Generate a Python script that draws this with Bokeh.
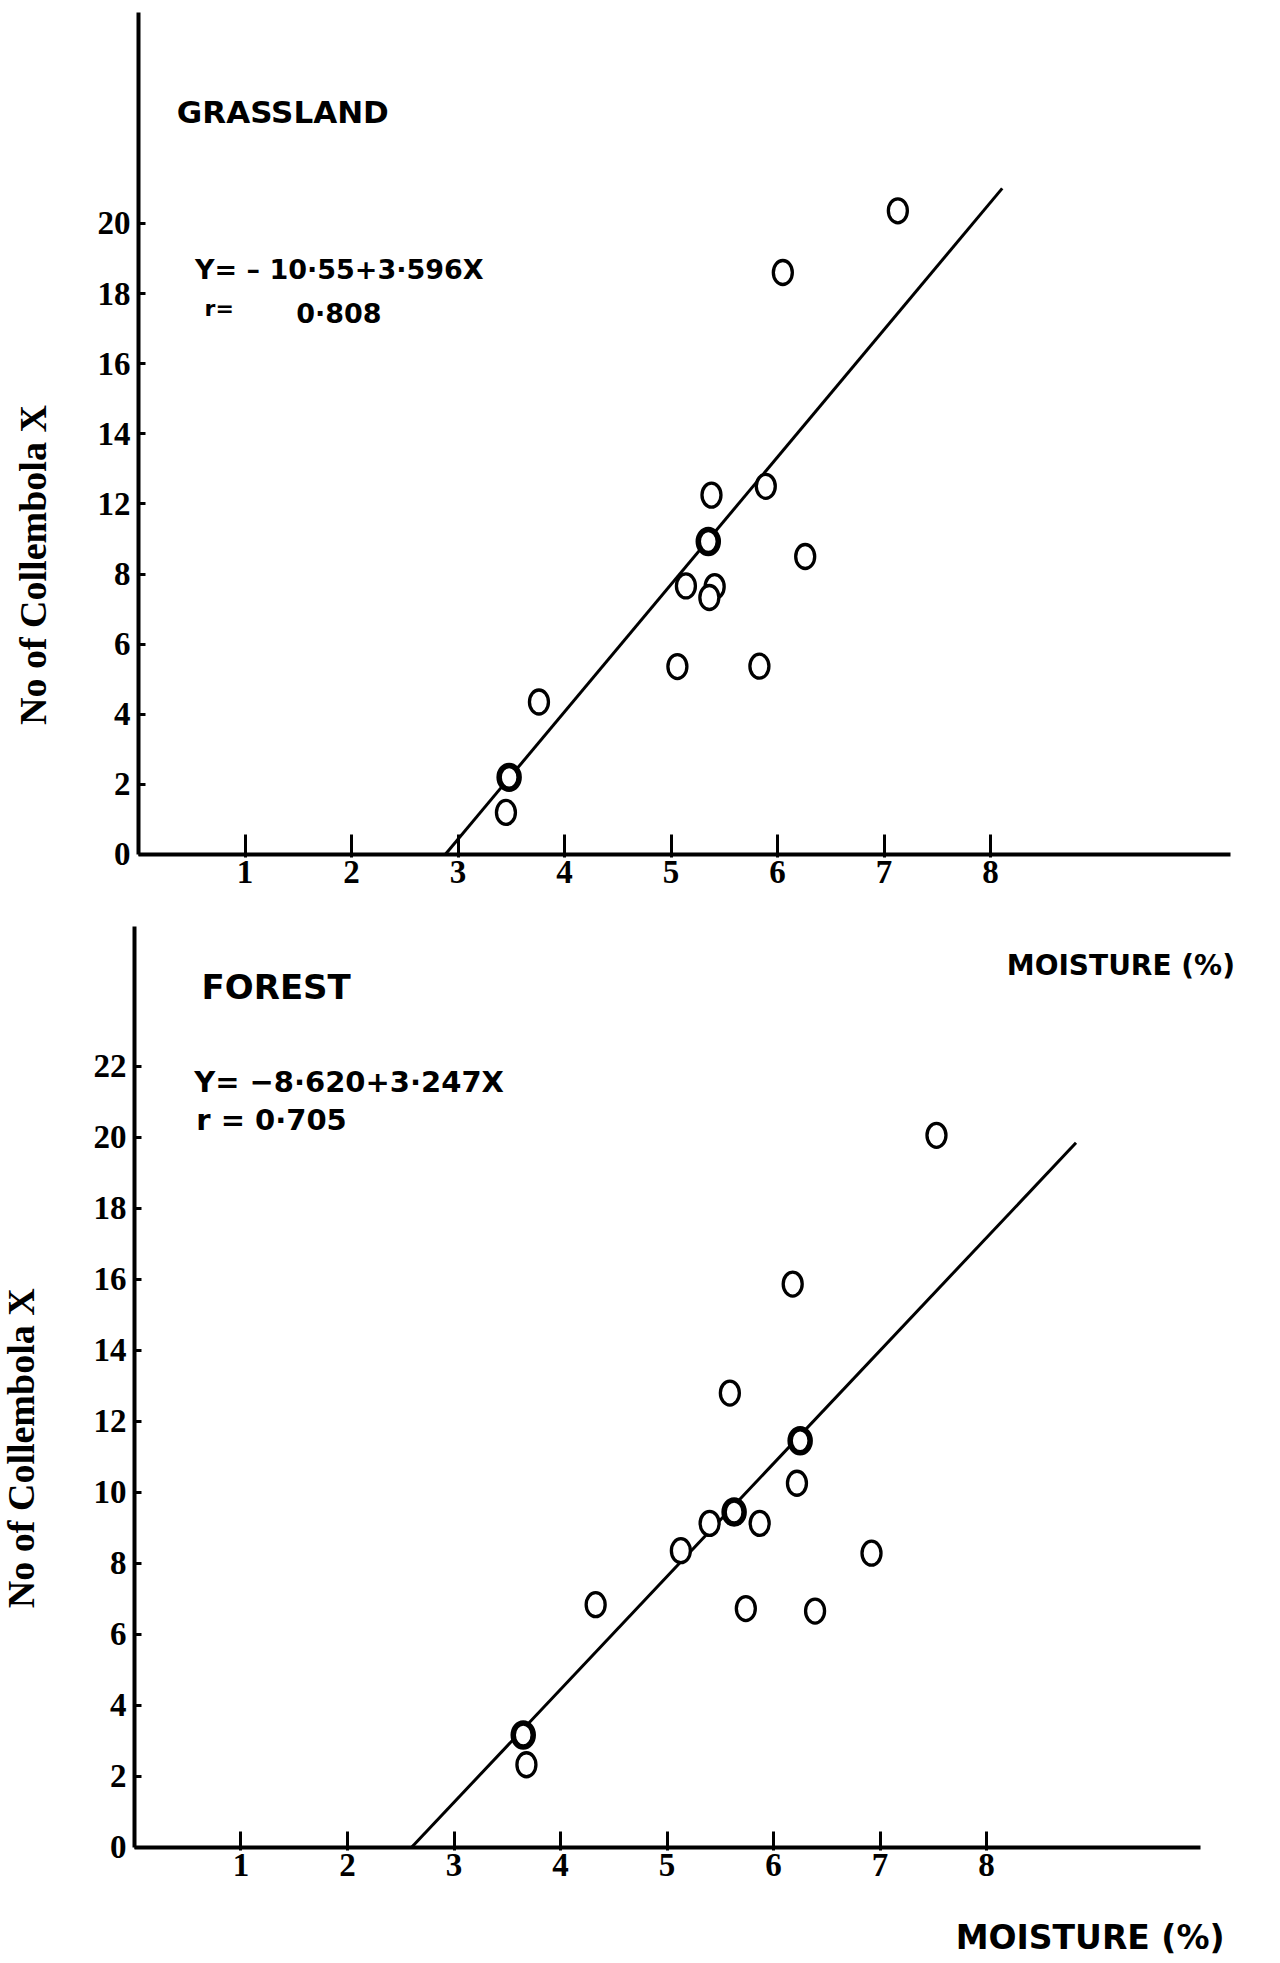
import math
from bokeh.plotting import figure
from bokeh.layouts import column
from bokeh.models import Range1d, FixedTicker, Label, ColumnDataSource
from bokeh.embed import file_html
from bokeh.resources import INLINE

# ---------------- data ----------------
# Grassland panel
grass_moisture = [7.13, 6.05, 5.38, 5.89, 5.35, 6.26, 5.14, 5.41, 5.36, 5.06, 5.83, 3.76, 3.48, 3.45]
grass_collembola = [18.36, 16.6, 10.25, 10.5, 8.93, 8.5, 7.66, 7.64, 7.33, 5.36, 5.37, 4.35, 2.2, 1.2]
grass_heavy = [4, 12]                      # points drawn with a doubled stroke
grass_fit_x = [2.88, 8.11]                 # drawn regression line ends
grass_fit_y = [0.0, 19.0]
grass_yticks = [0, 2, 4, 6, 8, 10, 12, 14, 16, 18]
grass_ytick_labels = ["0", "2", "4", "6", "8", "12", "14", "16", "18", "20"]
grass_equation = "Y= \u2013 10\u00b755+3\u00b7596X"
grass_r_label = "r="
grass_r_value = "0\u00b7808"

# Forest panel
forest_moisture = [7.53, 6.18, 5.59, 6.25, 6.22, 5.63, 5.40, 5.87, 5.13, 6.92, 5.74, 6.39, 4.33, 3.65, 3.68]
forest_collembola = [20.06, 15.87, 12.8, 11.46, 10.26, 9.45, 9.13, 9.13, 8.36, 8.29, 6.73, 6.66, 6.84, 3.17, 2.33]
forest_heavy = [3, 5, 13]
forest_fit_x = [2.6, 8.84]
forest_fit_y = [0.0, 19.85]
forest_yticks = [0, 2, 4, 6, 8, 10, 12, 14, 16, 18, 20, 22]
forest_ytick_labels = ["0", "2", "4", "6", "8", "10", "12", "14", "16", "18", "20", "22"]
forest_equation = "Y= \u22128\u00b7620+3\u00b7247X"
forest_r_text = "r = 0\u00b7705"

xticks = [1, 2, 3, 4, 5, 6, 7, 8]
x_title = "MOISTURE (%)"
y_title = "No of Collembola  X"

HAND = "DejaVu Sans"
SERIF = "Liberation Serif"


def make_panel(height, xr, yr, x_bounds, y_bounds, yticks, ylabels, tick_in):
    p = figure(width=1280, height=height,
               x_range=Range1d(*xr), y_range=Range1d(*yr),
               output_backend="svg", toolbar_location=None,
               min_border=0, min_border_left=0, min_border_right=0,
               min_border_top=0, min_border_bottom=0)
    p.grid.visible = False
    p.outline_line_color = None
    p.background_fill_color = "white"
    p.border_fill_color = "white"

    xa = p.xaxis[0]
    xa.fixed_location = 0
    xa.bounds = x_bounds
    xa.ticker = FixedTicker(ticks=xticks)
    xa.axis_line_width = 4
    xa.axis_line_color = "black"
    xa.major_tick_line_width = 3
    xa.major_tick_line_color = "black"
    xa.major_tick_in = tick_in
    xa.major_tick_out = 3
    xa.minor_tick_line_color = None
    xa.major_label_standoff = 4
    xa.major_label_text_font = SERIF
    xa.major_label_text_font_style = "bold"
    xa.major_label_text_font_size = "33px"
    xa.major_label_text_color = "black"

    ya = p.yaxis[0]
    ya.fixed_location = 0
    ya.bounds = y_bounds
    ya.ticker = FixedTicker(ticks=yticks)
    ya.major_label_overrides = {t: l for t, l in zip(yticks, ylabels)}
    ya.axis_line_width = 4
    ya.axis_line_color = "black"
    ya.major_tick_line_width = 3
    ya.major_tick_line_color = "black"
    ya.major_tick_in = 7
    ya.major_tick_out = 0
    ya.minor_tick_line_color = None
    ya.major_label_standoff = 8
    ya.major_label_text_font = SERIF
    ya.major_label_text_font_style = "bold"
    ya.major_label_text_font_size = "33px"
    ya.major_label_text_color = "black"
    return p


def add_points(p, xs, ys, heavy, fit_x, fit_y):
    p.line(fit_x, fit_y, line_color="black", line_width=3)
    src = ColumnDataSource(dict(x=xs, y=ys))
    p.ellipse(x="x", y="y", width=19, height=24, width_units="screen", height_units="screen",
              source=src, fill_color="white", line_color="black", line_width=3.3)
    hsrc = ColumnDataSource(dict(x=[xs[i] for i in heavy], y=[ys[i] for i in heavy]))
    p.ellipse(x="x", y="y", width=20, height=24, width_units="screen", height_units="screen",
              source=hsrc, fill_color=None, line_color="black", line_width=5.5)


def lab(p, x, y, text, size, font=HAND, align="left", angle=0.0):
    p.add_layout(Label(x=x, y=y, text=text, text_font=font, text_font_size=size,
                       text_font_style="bold", text_color="black", text_align=align,
                       text_baseline="middle", angle=angle))


# ---------------- top panel: grassland (page rows 0..905) ----------------
# page x = 138 + 106.5*x ; page y = 854 - 35.06*y
top = make_panel(905, (-1.296, 10.723), (-1.455, 24.358), (0, 10.25), (0, 24.02),
                 grass_yticks, grass_ytick_labels, 20)
add_points(top, grass_moisture, grass_collembola, grass_heavy, grass_fit_x, grass_fit_y)
lab(top, 0.36, 21.19, "GRASSLAND", "31px")
lab(top, 0.53, 16.69, grass_equation, "27px")
lab(top, 0.62, 15.57, grass_r_label, "22px")
lab(top, 1.48, 15.43, grass_r_value, "27px")
lab(top, -0.995, 8.39, y_title, "38px", font=SERIF, align="center", angle=math.pi / 2)

# ---------------- bottom panel: forest (page rows 905..1963) ----------------
# page x = 134 + 106.5*x ; page y = 1847 - 35.5*y
bot = make_panel(1058, (-1.258, 10.76), (-3.268, 26.535), (0, 10.01), (0, 25.94),
                 forest_yticks, forest_ytick_labels, 16)
add_points(bot, forest_moisture, forest_collembola, forest_heavy, forest_fit_x, forest_fit_y)
lab(bot, 8.19, 24.85, x_title, "28px")          # x-axis title of the grassland panel
lab(bot, 0.63, 24.25, "FOREST", "34px")
lab(bot, 0.56, 21.55, forest_equation, "29px")
lab(bot, 0.58, 20.48, forest_r_text, "29px")
lab(bot, 7.71, -2.54, x_title, "33px")
lab(bot, -1.07, 11.38, y_title, "38px", font=SERIF, align="center", angle=math.pi / 2)

layout = column(top, bot, spacing=0)
open("out.html", "w").write(file_html(layout, INLINE))
